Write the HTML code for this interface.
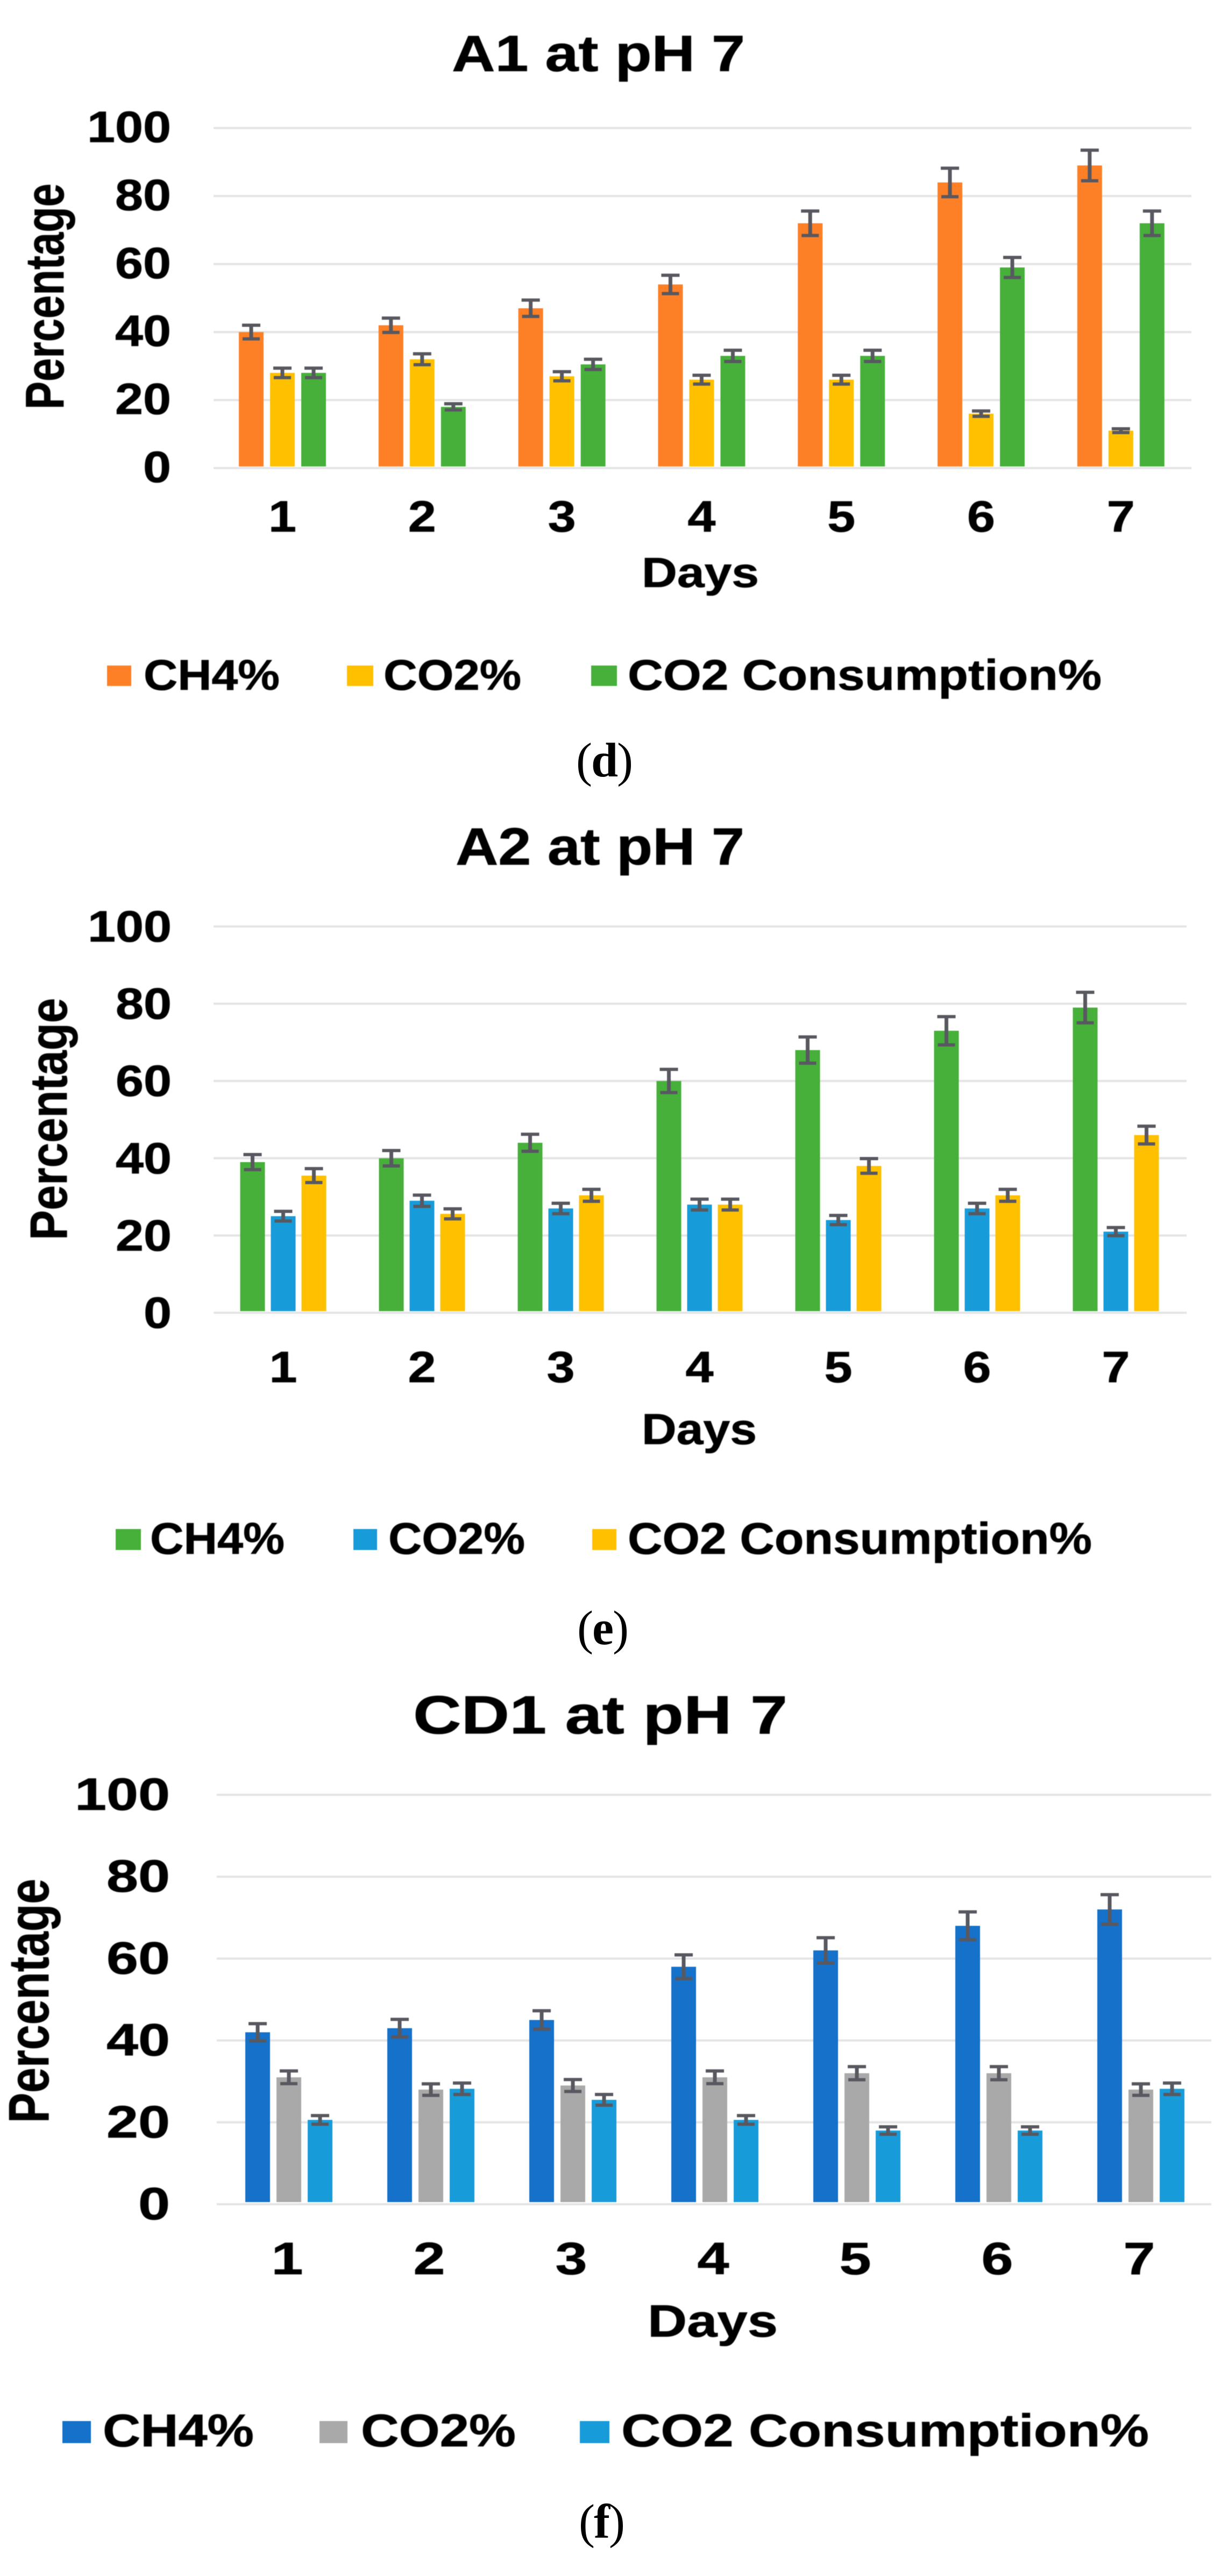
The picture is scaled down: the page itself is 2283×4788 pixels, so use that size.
<!DOCTYPE html>
<html lang="en">
<head>
<meta charset="utf-8">
<title>CH4 and CO2 percentage charts at pH 7</title>
<style>
  html, body { margin: 0; padding: 0; background: #fff; }
  svg { display: block; }
  text { font-family: "Liberation Sans", Arial, sans-serif; font-weight: 700; fill: #000; stroke: #000; stroke-width: 0.8px; filter: blur(0.8px); }
  rect.mark, line, path { filter: blur(0.6px); }
  text.cap { font-family: "Liberation Serif", "Times New Roman", serif; font-weight: 400; font-size: 90px; letter-spacing: -2px; stroke: none; filter: none; }
  .cap tspan { font-weight: 700; }
</style>
</head>
<body>
<svg id="figure" xmlns="http://www.w3.org/2000/svg" width="2283" height="4788" viewBox="0 0 2283 4788">
  <rect width="2283" height="4788" fill="#ffffff"/>

  <!-- Chart d -->
  <g id="chart-a1"></g>
  <text x="840" y="132" font-size="95" textLength="545" lengthAdjust="spacingAndGlyphs">A1 at pH 7</text>
  <text transform="translate(118,761) rotate(-90)" font-size="101" textLength="420" lengthAdjust="spacingAndGlyphs">Percentage</text>
  <text x="1193" y="1091" font-size="78" textLength="218" lengthAdjust="spacingAndGlyphs">Days</text>
  <g>
    <rect class="mark" x="199" y="1237" width="45" height="38" fill="#FD7F26"/>
    <text x="267" y="1282" font-size="80" textLength="253" lengthAdjust="spacingAndGlyphs">CH4%</text>
    <rect class="mark" x="645" y="1237" width="49" height="38" fill="#FFC000"/>
    <text x="713" y="1282" font-size="80" textLength="256" lengthAdjust="spacingAndGlyphs">CO2%</text>
    <rect class="mark" x="1099" y="1237" width="48" height="38" fill="#47B03A"/>
    <text x="1167" y="1282" font-size="80" textLength="881" lengthAdjust="spacingAndGlyphs">CO2 Consumption%</text>
  </g>
  <text class="cap" x="1071" y="1443">(<tspan>d</tspan>)</text>

  <!-- Chart e -->
  <g id="chart-a2"></g>
  <text x="847" y="1607" font-size="97" textLength="537" lengthAdjust="spacingAndGlyphs">A2 at pH 7</text>
  <text transform="translate(124,2305) rotate(-90)" font-size="97" textLength="450" lengthAdjust="spacingAndGlyphs">Percentage</text>
  <text x="1193" y="2684" font-size="81" textLength="214" lengthAdjust="spacingAndGlyphs">Days</text>
  <g>
    <rect class="mark" x="215" y="2842" width="47" height="39" fill="#47B03A"/>
    <text x="279" y="2888" font-size="83" textLength="250" lengthAdjust="spacingAndGlyphs">CH4%</text>
    <rect class="mark" x="657" y="2842" width="44" height="39" fill="#189BD9"/>
    <text x="722" y="2888" font-size="83" textLength="254" lengthAdjust="spacingAndGlyphs">CO2%</text>
    <rect class="mark" x="1101" y="2842" width="45" height="39" fill="#FFC000"/>
    <text x="1167" y="2888" font-size="83" textLength="863" lengthAdjust="spacingAndGlyphs">CO2 Consumption%</text>
  </g>
  <text class="cap" x="1073" y="3056">(<tspan>e</tspan>)</text>

  <!-- Chart f -->
  <g id="chart-cd1"></g>
  <text x="768" y="3222" font-size="100" textLength="696" lengthAdjust="spacingAndGlyphs">CD1 at pH 7</text>
  <text transform="translate(90,3946) rotate(-90)" font-size="106" textLength="454" lengthAdjust="spacingAndGlyphs">Percentage</text>
  <text x="1204" y="4343" font-size="84" textLength="242" lengthAdjust="spacingAndGlyphs">Days</text>
  <g>
    <rect class="mark" x="116" y="4500" width="53" height="41" fill="#1571C9"/>
    <text x="191" y="4547" font-size="85" textLength="281" lengthAdjust="spacingAndGlyphs">CH4%</text>
    <rect class="mark" x="594" y="4500" width="52" height="41" fill="#A9A9A9"/>
    <text x="671" y="4547" font-size="85" textLength="288" lengthAdjust="spacingAndGlyphs">CO2%</text>
    <rect class="mark" x="1078" y="4500" width="55" height="41" fill="#189BD9"/>
    <text x="1155" y="4547" font-size="85" textLength="981" lengthAdjust="spacingAndGlyphs">CO2 Consumption%</text>
  </g>
  <text class="cap" x="1076" y="4717">(<tspan>f</tspan>)</text>
</svg>

<script>
// Shared axis data
var dayLabels = ['1', '2', '3', '4', '5', '6', '7'];
var yTickValues = [0, 20, 40, 60, 80, 100];

// Chart A1 data
var a1Ch4 = [40, 42, 47, 54, 72, 84, 89];
var a1Co2 = [28, 32, 27, 26, 26, 16, 11];
var a1Consumption = [28, 18, 30.5, 33, 33, 59, 72];
var a1Ch4Err = [2, 2.1, 2.4, 2.7, 3.6, 4.2, 4.5];
var a1Co2Err = [1.4, 1.6, 1.35, 1.3, 1.3, 0.8, 0.55];
var a1ConsumptionErr = [1.4, 0.9, 1.5, 1.65, 1.65, 2.95, 3.6];

// Chart A2 data
var a2Ch4 = [39, 40, 44, 60, 68, 73, 79];
var a2Co2 = [25, 29, 27, 28, 24, 27, 21];
var a2Consumption = [35.5, 25.6, 30.4, 28, 38, 30.4, 46];
var a2Ch4Err = [1.95, 2, 2.2, 3, 3.4, 3.65, 3.95];
var a2Co2Err = [1.25, 1.45, 1.35, 1.4, 1.2, 1.35, 1.05];
var a2ConsumptionErr = [1.8, 1.3, 1.55, 1.4, 1.9, 1.55, 2.3];

// Chart CD1 data
var cd1Ch4 = [42, 43, 45, 58, 62, 68, 72];
var cd1Co2 = [31, 28, 29, 31, 32, 32, 28];
var cd1Consumption = [20.6, 28.2, 25.5, 20.6, 18, 18, 28.2];
var cd1Ch4Err = [2.1, 2.15, 2.25, 2.9, 3.1, 3.4, 3.6];
var cd1Co2Err = [1.55, 1.4, 1.45, 1.55, 1.6, 1.6, 1.4];
var cd1ConsumptionErr = [1.05, 1.4, 1.3, 1.05, 0.9, 0.9, 1.4];

var NS = 'http://www.w3.org/2000/svg';

function make(tag, parent) {
  var node = document.createElementNS(NS, tag);
  parent.appendChild(node);
  return node;
}

function drawChart(cfg) {
  var root = document.getElementById(cfg.id);

  function yScale(v) {
    return cfg.y0 + (cfg.y100 - cfg.y0) * v / 100;
  }
  function xScale(i) {
    return cfg.center0 + cfg.step * i;
  }

  // gridlines and y tick labels
  yTickValues.forEach(function (tick) {
    var line = make('line', root);
    
    
    line.setAttribute('x1', cfg.plotLeft);
    line.setAttribute('x2', cfg.plotRight);
    line.setAttribute('y1', yScale(tick));
    line.setAttribute('y2', yScale(tick));
    line.setAttribute('stroke', '#e4e4e4');
    line.setAttribute('stroke-width', '4');

    var label = make('text', root);
    
    
    var str = String(tick);
    var len = cfg.digitAdvance * str.length;
    label.setAttribute('x', cfg.yLabelRight - len);
    label.setAttribute('y', yScale(tick) + cfg.yLabelDrop);
    label.setAttribute('font-size', cfg.tickFont);
    label.setAttribute('textLength', len);
    label.setAttribute('lengthAdjust', 'spacingAndGlyphs');
    label.textContent = str;
  });

  // x tick labels
  dayLabels.forEach(function (day, i) {
    var label = make('text', root);
    
    
    label.setAttribute('x', xScale(i) + cfg.xLabelShift - cfg.digitAdvance / 2);
    label.setAttribute('y', cfg.xLabelBase);
    label.setAttribute('font-size', cfg.tickFont);
    label.setAttribute('textLength', cfg.digitAdvance);
    label.setAttribute('lengthAdjust', 'spacingAndGlyphs');
    label.textContent = day;
  });

  // bars and error bars
  cfg.series.forEach(function (s, k) {
    var offset = (k - 1) * cfg.barGap;
    s.values.forEach(function (v, i) {
      var cx = xScale(i) + offset;
      var top = yScale(v);
      var bottom = yScale(0) - cfg.barLift;

      var bar = make('rect', root);
      bar.setAttribute('class', 'mark');
      
      
      bar.setAttribute('x', cx - cfg.barWidth / 2);
      bar.setAttribute('y', top);
      bar.setAttribute('width', cfg.barWidth);
      bar.setAttribute('height', Math.max(0, bottom - top));
      bar.setAttribute('fill', s.color);

      var err = s.errors[i];
      var hi = yScale(v + err);
      var lo = yScale(v - err);
      var whisker = make('path', root);
      
      
      whisker.setAttribute('d',
        'M' + (cx - 17) + ' ' + hi + 'H' + (cx + 17) +
        'M' + (cx - 16) + ' ' + lo + 'H' + (cx + 16));
      whisker.setAttribute('stroke', '#585860');
      whisker.setAttribute('stroke-width', '6');
      whisker.setAttribute('fill', 'none');

      var stem = make('line', root);
      
      
      stem.setAttribute('x1', cx);
      stem.setAttribute('x2', cx);
      stem.setAttribute('y1', hi);
      stem.setAttribute('y2', lo);
      stem.setAttribute('stroke', '#585860');
      stem.setAttribute('stroke-width', '7');
    });
  });
}

drawChart({
  id: 'chart-a1', y0: 870, y100: 238, plotLeft: 397, plotRight: 2215,
  center0: 525, step: 259.8, barGap: 58, barWidth: 46, barLift: 3,
  yLabelRight: 318, yLabelDrop: 26, xLabelBase: 988, xLabelShift: 0,
  tickFont: 82, digitAdvance: 52,
  series: [
    { name: 'ch4', color: '#FD7F26', values: a1Ch4, errors: a1Ch4Err },
    { name: 'co2', color: '#FFC000', values: a1Co2, errors: a1Co2Err },
    { name: 'co2-consumption', color: '#47B03A', values: a1Consumption, errors: a1ConsumptionErr }
  ]
});

drawChart({
  id: 'chart-a2', y0: 2440, y100: 1722, plotLeft: 397, plotRight: 2206,
  center0: 526.5, step: 258, barGap: 57, barWidth: 46, barLift: 3,
  yLabelRight: 319, yLabelDrop: 28, xLabelBase: 2569, xLabelShift: 0,
  tickFont: 82, digitAdvance: 52,
  series: [
    { name: 'ch4', color: '#47B03A', values: a2Ch4, errors: a2Ch4Err },
    { name: 'co2', color: '#189BD9', values: a2Co2, errors: a2Co2Err },
    { name: 'co2-consumption', color: '#FFC000', values: a2Consumption, errors: a2ConsumptionErr }
  ]
});

drawChart({
  id: 'chart-cd1', y0: 4097, y100: 3336, plotLeft: 403, plotRight: 2252,
  center0: 537, step: 264, barGap: 58, barWidth: 46, barLift: 4,
  yLabelRight: 316, yLabelDrop: 28, xLabelBase: 4227, xLabelShift: -3,
  tickFont: 84, digitAdvance: 59,
  series: [
    { name: 'ch4', color: '#1571C9', values: cd1Ch4, errors: cd1Ch4Err },
    { name: 'co2', color: '#A9A9A9', values: cd1Co2, errors: cd1Co2Err },
    { name: 'co2-consumption', color: '#189BD9', values: cd1Consumption, errors: cd1ConsumptionErr }
  ]
});
</script>
</body>
</html>
